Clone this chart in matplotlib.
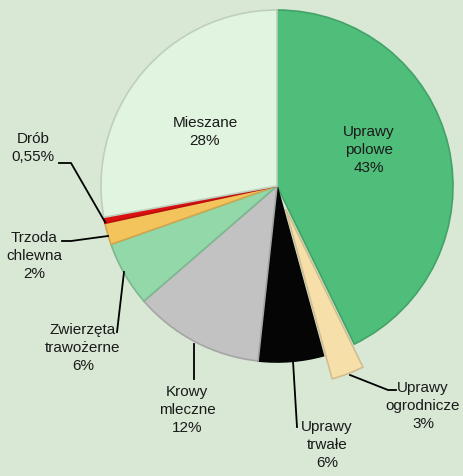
import matplotlib
matplotlib.use('Agg')
import matplotlib.pyplot as plt
from matplotlib.colors import to_rgb

# data
labels = ['Uprawy\npolowe', 'Uprawy\nogrodnicze', 'Uprawy\ntrwałe', 'Krowy\nmleczne',
          'Zwierzęta\ntrawożerne', 'Trzoda\nchlewna', 'Drób', 'Mieszane']
values = [43, 3, 6, 12, 6, 2, 0.55, 28]
pct_text = ['43%', '3%', '6%', '12%', '6%', '2%', '0,55%', '28%']
colors = ['#4fbe7a', '#f6dfa9', '#050505', '#c2c2c2', '#92d8a8', '#f4c45c', '#dd1010', '#e1f4e0']
explode = [0, 0.14, 0, 0, 0, 0, 0, 0]  # fraction of radius

W, H = 463, 477
bg = '#d8e8d4'
R = 176

plt.rcParams['font.family'] = ['Liberation Sans', 'DejaVu Sans']

fig = plt.figure(figsize=(W / 100, H / 100), dpi=100, facecolor=bg)
ax = fig.add_axes([0, 0, 1, 1])
ax.set_facecolor(bg)


def px(x, y):
    # pixel position (top-left origin) -> data coords
    return (x, H - y)


def darker(c, f=0.8):
    r, g, b = to_rgb(c)
    return (r * f, g * f, b * f)


cx, cy = px(277, 187)
wedges, _ = ax.pie(values, colors=colors, startangle=90, counterclock=False,
                   explode=[e * R for e in explode], radius=R, center=(cx, cy),
                   frame=True, wedgeprops=dict(linewidth=1.2))
for w, c in zip(wedges, colors):
    w.set_edgecolor(darker(c, 0.85))
ax.set_xlim(0, W)
ax.set_ylim(0, H)
ax.set_aspect('equal')
ax.axis('off')

# label positions
label_pos = [(369, 150), (423, 406), (327, 445), (187, 410),
             (83, 348), (34, 256), (33, 148), (205, 132)]
for lab, pct, pos in zip(labels, pct_text, label_pos):
    ax.text(*px(*pos), lab + '\n' + pct, ha='center', va='center',
            fontsize=11, color='#1a1a1a', linespacing=1.35)

# leader lines
leaders = [
    [(59, 164), (71, 164), (105, 223)],
    [(62, 242), (71, 242), (108, 237)],
    [(117, 333), (124, 273)],
    [(194, 380), (194, 345)],
    [(297, 428), (293, 362)],
    [(396, 391), (388, 391), (350, 376)],
]
for pts in leaders:
    xs = [px(*p)[0] for p in pts]
    ys = [px(*p)[1] for p in pts]
    ax.plot(xs, ys, color='black', linewidth=1.3)

fig.savefig('out.png', dpi=100, facecolor=bg)
